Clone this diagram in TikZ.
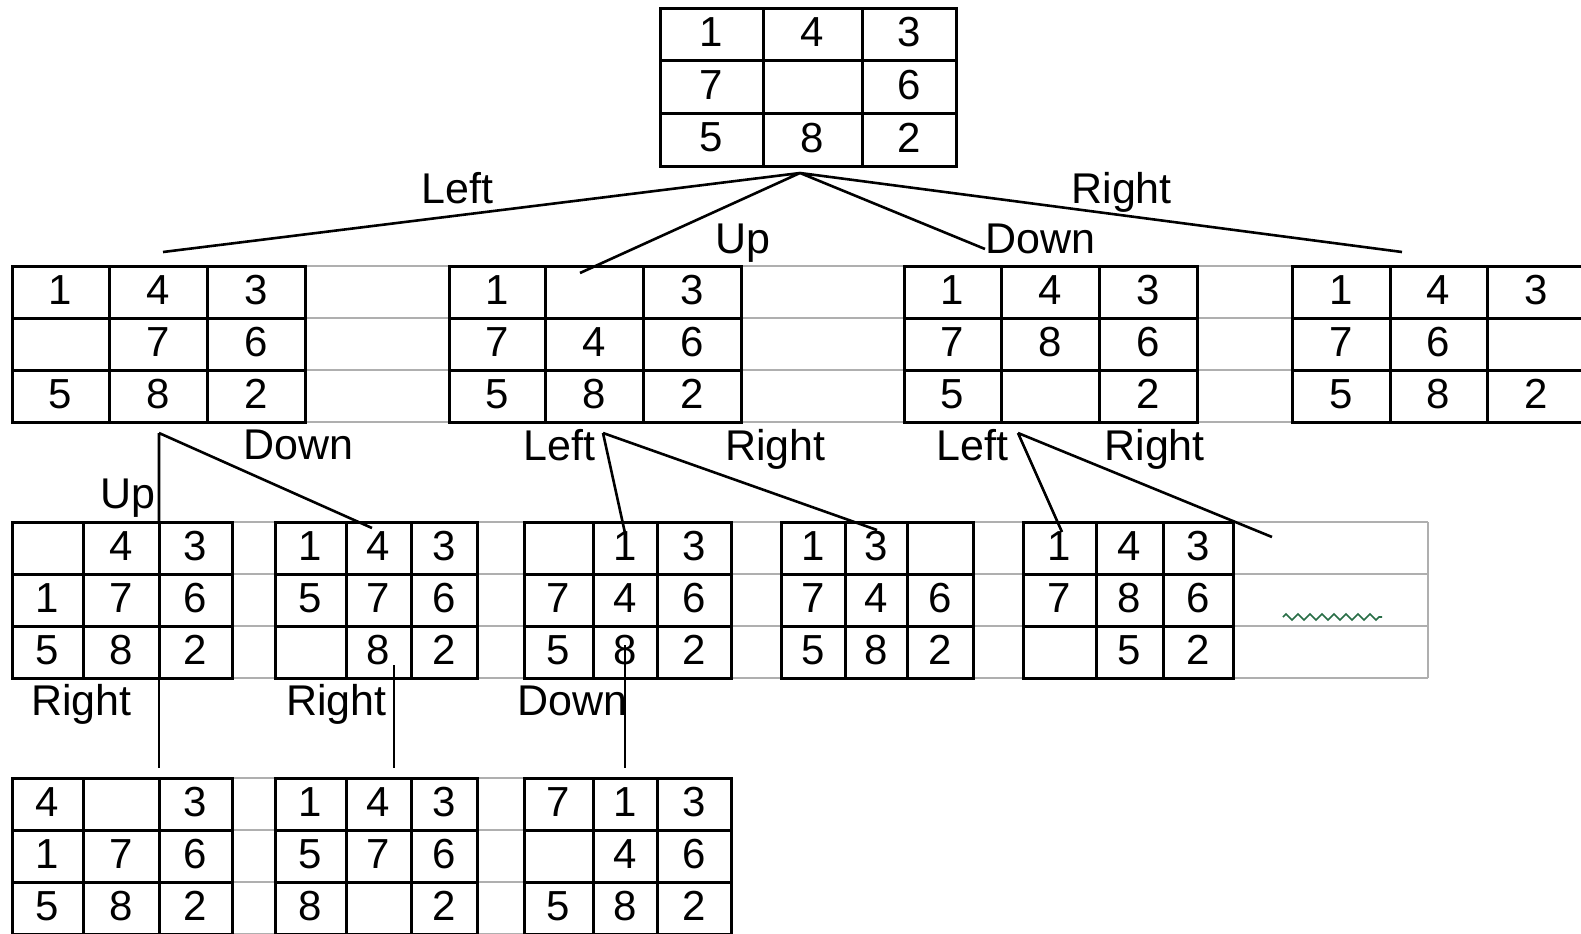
\documentclass[tikz,border=0pt]{standalone}
\usepackage{fontspec}
\setmainfont{Liberation Sans}
\usetikzlibrary{decorations.pathmorphing}
\definecolor{sheetgray}{RGB}{175,175,175}
\definecolor{squig}{RGB}{40,110,70}
\tikzset{
  frame/.style={draw=black, line width=1.5pt, inner sep=0pt, outer sep=0pt, fill=none},
  cellline/.style={draw=black, line width=1.5pt},
  dig/.style={font=\fontsize{21}{25}\selectfont, inner sep=0pt, anchor=center},
  lab/.style={font=\fontsize{21.5}{25}\selectfont, inner sep=0pt, anchor=base west},
  conn/.style={draw=black, line width=1.3pt},
  sheet/.style={draw=sheetgray, line width=1.1pt},
}
\newcommand\puz[8]{%
  \def\pzname{#1}\def\pzxa{#2}\def\pzxb{#3}\def\pzxc{#4}\def\pzxd{#5}\def\pzy{#6}\def\pzh{#7}%
  \pzdraw#8}
\newcommand\pzdraw[9]{%
  \pgfmathsetmacro\pzw{(\pzxd-\pzxa)*0.5}%
  \pgfmathsetmacro\pzhh{3*\pzh*0.5}%
  \pgfmathsetmacro\pca{(\pzxa+\pzxb)/2}%
  \pgfmathsetmacro\pcb{(\pzxb+\pzxc)/2}%
  \pgfmathsetmacro\pcc{(\pzxc+\pzxd)/2}%
  \pgfmathsetmacro\pra{\pzy+0.5*\pzh-2}%
  \pgfmathsetmacro\prb{\pzy+1.5*\pzh-2}%
  \pgfmathsetmacro\prc{\pzy+2.5*\pzh-2}%
  \draw[cellline] (\pzxb,\pzy) -- (\pzxb,{\pzy+3*\pzh}) (\pzxc,\pzy) -- (\pzxc,{\pzy+3*\pzh})
     (\pzxa,{\pzy+\pzh}) -- (\pzxd,{\pzy+\pzh}) (\pzxa,{\pzy+2*\pzh}) -- (\pzxd,{\pzy+2*\pzh});
  \node[frame, minimum width=\pzw pt, minimum height=\pzhh pt] (\pzname) at ({(\pzxa+\pzxd)/2},{\pzy+1.5*\pzh}) {};
  \node[dig] (\pzname-1) at (\pca,\pra) {#1};
  \node[dig] (\pzname-2) at (\pcb,\pra) {#2};
  \node[dig] (\pzname-3) at (\pcc,\pra) {#3};
  \node[dig] (\pzname-4) at (\pca,\prb) {#4};
  \node[dig] (\pzname-5) at (\pcb,\prb) {#5};
  \node[dig] (\pzname-6) at (\pcc,\prb) {#6};
  \node[dig] (\pzname-7) at (\pca,\prc) {#7};
  \node[dig] (\pzname-8) at (\pcb,\prc) {#8};
  \node[dig] (\pzname-9) at (\pcc,\prc) {#9};
}
\begin{document}
\begin{tikzpicture}[x=0.5pt, y=-0.5pt]
\useasboundingbox (0,0) rectangle (1581,933);
\fill[white] (0,0) rectangle (1581,933);
\clip (0,0) rectangle (1581,933);

% spreadsheet gray lines
\foreach \yy in {266,318,370,422} { \draw[sheet] (12,\yy) -- (1581,\yy); }
\foreach \yy in {522,574,626,678} { \draw[sheet] (12,\yy) -- (1428,\yy); }
\draw[sheet] (1428,522) -- (1428,678);
\foreach \yy in {778,830,882,934} { \draw[sheet] (232,\yy) -- (275,\yy); \draw[sheet] (477,\yy) -- (524,\yy); }

% puzzles
\puz{t}{660}{763}{862}{956}{8}{52.7}{{1}{4}{3}{7}{}{6}{5}{8}{2}}
\puz{a}{12}{109}{207}{305}{266}{52}{{1}{4}{3}{}{7}{6}{5}{8}{2}}
\puz{b}{449}{545}{643}{741}{266}{52}{{1}{}{3}{7}{4}{6}{5}{8}{2}}
\puz{c}{904}{1001}{1099}{1197}{266}{52}{{1}{4}{3}{7}{8}{6}{5}{}{2}}
\puz{d}{1292}{1390}{1487}{1585}{266}{52}{{1}{4}{3}{7}{6}{}{5}{8}{2}}
\puz{aa}{12}{83}{159}{232}{522}{52}{{}{4}{3}{1}{7}{6}{5}{8}{2}}
\puz{ab}{275}{346}{411}{477}{522}{52}{{1}{4}{3}{5}{7}{6}{}{8}{2}}
\puz{ba}{524}{593}{657}{731}{522}{52}{{}{1}{3}{7}{4}{6}{5}{8}{2}}
\puz{bb}{781}{845}{907}{973}{522}{52}{{1}{3}{}{7}{4}{6}{5}{8}{2}}
\puz{ca}{1023}{1096}{1163}{1233}{522}{52}{{1}{4}{3}{7}{8}{6}{}{5}{2}}
\puz{aaa}{12}{83}{159}{232}{778}{52}{{4}{}{3}{1}{7}{6}{5}{8}{2}}
\puz{aba}{275}{346}{411}{477}{778}{52}{{1}{4}{3}{5}{7}{6}{8}{}{2}}
\puz{baa}{524}{593}{657}{731}{778}{52}{{7}{1}{3}{}{4}{6}{5}{8}{2}}

% labels
\node[lab] (lt1) at (421,203) {Left};
\node[lab] (lt2) at (715,253) {Up};
\node[lab] (lt3) at (985,253) {Down};
\node[lab] (lt4) at (1071,203) {Right};
\node[lab] (la1) at (100,508) {Up};
\node[lab] (la2) at (243,459) {Down};
\node[lab] (lb1) at (523,460) {Left};
\node[lab] (lb2) at (725,460) {Right};
\node[lab] (lc1) at (936,460) {Left};
\node[lab] (lc2) at (1104,460) {Right};
\node[lab] (lr1) at (31,715) {Right};
\node[lab] (lr2) at (286,715) {Right};
\node[lab] (lr3) at (517,715) {Down};

% junctions and ends
\coordinate (jt) at (800,173);
\coordinate (et1) at (163,252);
\coordinate (et2) at (580,273);
\coordinate (et3) at (985,249);
\coordinate (et4) at (1402,252);
\coordinate (ja) at (159,433);
\coordinate (ea1) at (159,522);
\coordinate (ea2) at (372,528);
\coordinate (jb) at (603,433);
\coordinate (eb1) at (625,533);
\coordinate (eb2) at (877,530);
\coordinate (jc) at (1018,433);
\coordinate (ec1) at (1062,532);
\coordinate (ec2) at (1272,537);
\coordinate (sa) at (159,678);
\coordinate (ra) at (159,768);
\coordinate (sb) at (394,665);
\coordinate (rb) at (394,768);
\coordinate (sc) at (625,645);
\coordinate (rc) at (625,768);

\draw[conn] (jt) -- (et1) (jt) -- (et2) (jt) -- (et3) (jt) -- (et4);
\draw[conn] (ja) -- (ea1) (ja) -- (ea2);
\draw[conn] (jb) -- (eb1) (jb) -- (eb2);
\draw[conn] (jc) -- (ec1) (jc) -- (ec2);
\draw[conn] (sa) -- (ra) (sb) -- (rb) (sc) -- (rc);

% green squiggle
\coordinate (q1) at (1283,617);
\coordinate (q2) at (1382,617);
\draw[squig, line width=0.8pt, decorate, decoration={zigzag, segment length=6pt, amplitude=1.5pt}] (q1) -- (q2);
\end{tikzpicture}
\end{document}
